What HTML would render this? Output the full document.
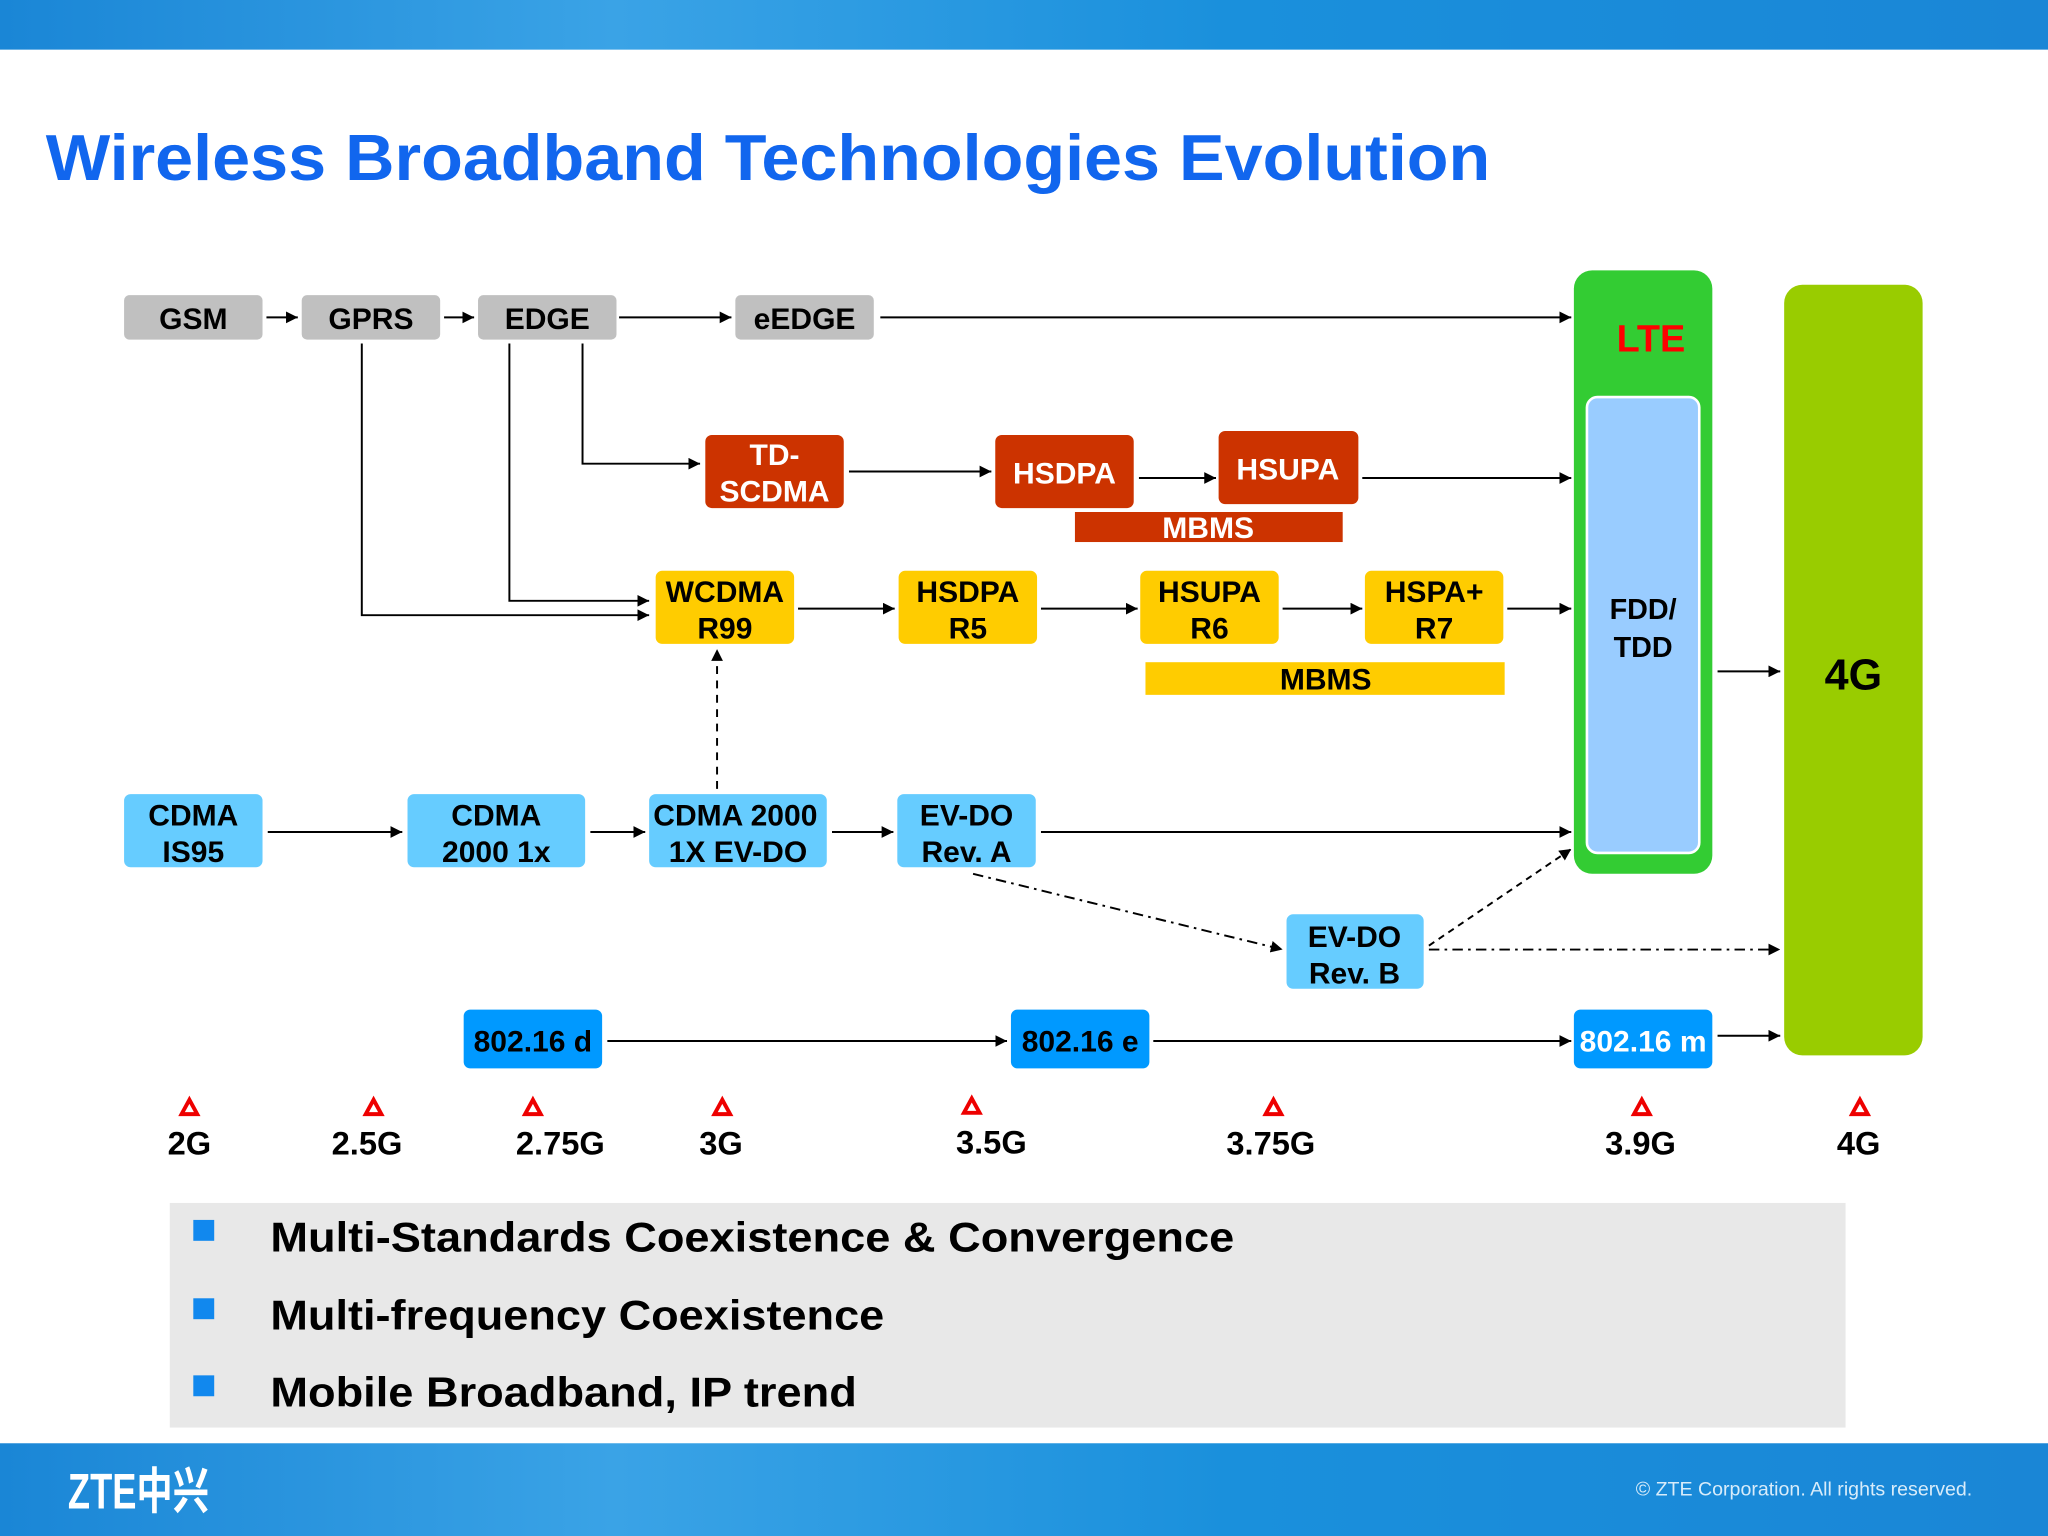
<!DOCTYPE html>
<html><head><meta charset="utf-8"><style>
html,body{margin:0;padding:0;background:#fff;}
svg{display:block;}
text{font-family:"Liberation Sans",Arial,sans-serif;font-weight:bold;}
</style></head><body>
<svg width="2048" height="1536" viewBox="0 0 1568 1176" xmlns="http://www.w3.org/2000/svg">
<defs>
<marker id="ar" viewBox="0 0 10 10" refX="10" refY="5" markerWidth="9" markerHeight="9" markerUnits="userSpaceOnUse" orient="auto"><path d="M0,0L10,5L0,10z" fill="#000"/></marker>
<linearGradient id="tb" x1="0" x2="1"><stop offset="0" stop-color="#1a86d6"/><stop offset="0.3" stop-color="#3aa3e6"/><stop offset="0.6" stop-color="#1a90dc"/><stop offset="1" stop-color="#1a86d6"/></linearGradient>
</defs>
<rect x="0" y="0" width="1568" height="38" fill="url(#tb)"/>
<text x="35" y="138" font-size="50" fill="#1166ee" textLength="1106" lengthAdjust="spacingAndGlyphs">Wireless Broadband Technologies Evolution</text>

<rect x="1205" y="207" width="106" height="462" rx="14" fill="#33cc33"/>
<text x="1264" y="269" font-size="29" fill="#ff0000" text-anchor="middle">LTE</text>
<rect x="1215" y="304" width="86" height="349" rx="8" fill="#99ccff" stroke="#fff" stroke-width="2"/>
<text x="1258" y="474" font-size="22" fill="#000" text-anchor="middle">FDD/<tspan x="1258" dy="29">TDD</tspan></text>
<rect x="1366" y="218" width="106" height="590" rx="14" fill="#99cc00"/>
<text x="1419" y="528" font-size="33" fill="#000" text-anchor="middle">4G</text>

<g stroke="#000" stroke-width="1.5" fill="none">
<line x1="204" y1="243" x2="228" y2="243" marker-end="url(#ar)"/>
<line x1="340" y1="243" x2="363" y2="243" marker-end="url(#ar)"/>
<line x1="474" y1="243" x2="560" y2="243" marker-end="url(#ar)"/>
<line x1="674" y1="243" x2="1203" y2="243" marker-end="url(#ar)"/>
<polyline points="446,263 446,355 536,355" marker-end="url(#ar)"/>
<polyline points="390,263 390,460 497,460" marker-end="url(#ar)"/>
<polyline points="277,263 277,471 497,471" marker-end="url(#ar)"/>
<line x1="650" y1="361" x2="759" y2="361" marker-end="url(#ar)"/>
<line x1="872" y1="366" x2="931" y2="366" marker-end="url(#ar)"/>
<line x1="1043" y1="366" x2="1203" y2="366" marker-end="url(#ar)"/>
<line x1="611" y1="466" x2="685" y2="466" marker-end="url(#ar)"/>
<line x1="797" y1="466" x2="871" y2="466" marker-end="url(#ar)"/>
<line x1="982" y1="466" x2="1043" y2="466" marker-end="url(#ar)"/>
<line x1="1154" y1="466" x2="1203" y2="466" marker-end="url(#ar)"/>
<line x1="1315" y1="514" x2="1363" y2="514" marker-end="url(#ar)"/>
<line x1="549" y1="604" x2="549" y2="497" stroke-dasharray="6,5" marker-end="url(#ar)"/>
<line x1="205" y1="637" x2="308" y2="637" marker-end="url(#ar)"/>
<line x1="452" y1="637" x2="494" y2="637" marker-end="url(#ar)"/>
<line x1="637" y1="637" x2="684" y2="637" marker-end="url(#ar)"/>
<line x1="797" y1="637" x2="1203" y2="637" marker-end="url(#ar)"/>
<line x1="745" y1="669" x2="982" y2="727" stroke-dasharray="8,4,2,4" marker-end="url(#ar)"/>
<line x1="1094" y1="727" x2="1363" y2="727" stroke-dasharray="8,4,2,4" marker-end="url(#ar)"/>
<line x1="1094" y1="724" x2="1203" y2="650" stroke-dasharray="5,4" marker-end="url(#ar)"/>
<line x1="465" y1="797" x2="771" y2="797" marker-end="url(#ar)"/>
<line x1="883" y1="797" x2="1203" y2="797" marker-end="url(#ar)"/>
<line x1="1315" y1="793" x2="1363" y2="793" marker-end="url(#ar)"/>
</g>

<g font-size="23" text-anchor="middle" fill="#000">
<rect x="95" y="226" width="106" height="34" rx="4" fill="#c0c0c0"/><text x="148" y="252">GSM</text>
<rect x="231" y="226" width="106" height="34" rx="4" fill="#c0c0c0"/><text x="284" y="252">GPRS</text>
<rect x="366" y="226" width="106" height="34" rx="4" fill="#c0c0c0"/><text x="419" y="252">EDGE</text>
<rect x="563" y="226" width="106" height="34" rx="4" fill="#c0c0c0"/><text x="616" y="252">eEDGE</text>
</g>
<g font-size="23" text-anchor="middle" fill="#fff">
<rect x="540" y="333" width="106" height="56" rx="5" fill="#cc3300"/><text x="593" y="356">TD-<tspan x="593" dy="28">SCDMA</tspan></text>
<rect x="762" y="333" width="106" height="56" rx="5" fill="#cc3300"/><text x="815" y="370">HSDPA</text>
<rect x="933" y="330" width="107" height="56" rx="5" fill="#cc3300"/><text x="986" y="367">HSUPA</text>
<rect x="823" y="392" width="205" height="23" fill="#cc3300"/><text x="925" y="412">MBMS</text>
</g>
<g font-size="23" text-anchor="middle" fill="#000">
<rect x="502" y="437" width="106" height="56" rx="5" fill="#ffcc00"/><text x="555" y="461">WCDMA<tspan x="555" dy="28">R99</tspan></text>
<rect x="688" y="437" width="106" height="56" rx="5" fill="#ffcc00"/><text x="741" y="461">HSDPA<tspan x="741" dy="28">R5</tspan></text>
<rect x="873" y="437" width="106" height="56" rx="5" fill="#ffcc00"/><text x="926" y="461">HSUPA<tspan x="926" dy="28">R6</tspan></text>
<rect x="1045" y="437" width="106" height="56" rx="5" fill="#ffcc00"/><text x="1098" y="461">HSPA+<tspan x="1098" dy="28">R7</tspan></text>
<rect x="877" y="507" width="275" height="25" fill="#ffcc00"/><text x="1015" y="528">MBMS</text>
</g>
<g font-size="23" text-anchor="middle" fill="#000">
<rect x="95" y="608" width="106" height="56" rx="5" fill="#66ccff"/><text x="148" y="632">CDMA<tspan x="148" dy="28">IS95</tspan></text>
<rect x="312" y="608" width="136" height="56" rx="5" fill="#66ccff"/><text x="380" y="632">CDMA<tspan x="380" dy="28">2000 1x</tspan></text>
<rect x="497" y="608" width="136" height="56" rx="5" fill="#66ccff"/><text x="563" y="632">CDMA 2000<tspan x="565" dy="28">1X EV-DO</tspan></text>
<rect x="687" y="608" width="106" height="56" rx="5" fill="#66ccff"/><text x="740" y="632">EV-DO<tspan x="740" dy="28">Rev. A</tspan></text>
<rect x="985" y="700" width="105" height="57" rx="5" fill="#66ccff"/><text x="1037" y="725">EV-DO<tspan x="1037" dy="28">Rev. B</tspan></text>
</g>
<g font-size="23" text-anchor="middle" fill="#000">
<rect x="355" y="773" width="106" height="45" rx="5" fill="#0099ff"/><text x="408" y="805">802.16 d</text>
<rect x="774" y="773" width="106" height="45" rx="5" fill="#0099ff"/><text x="827" y="805">802.16 e</text>
<rect x="1205" y="773" width="106" height="45" rx="5" fill="#0099ff"/><text x="1258" y="805" fill="#fff">802.16 m</text>
</g>

<g font-size="25" text-anchor="middle" fill="#000">
<g fill="#fff" stroke="#e00" stroke-width="3">
<path d="M145,842 L139,853 L151,853Z"/><path d="M286,842 L280,853 L292,853Z"/><path d="M408,842 L402,853 L414,853Z"/><path d="M553,842 L547,853 L559,853Z"/><path d="M744,841 L738,852 L750,852Z"/><path d="M975,842 L969,853 L981,853Z"/><path d="M1257,842 L1251,853 L1263,853Z"/><path d="M1424,842 L1418,853 L1430,853Z"/>
</g>
<text x="145" y="884">2G</text><text x="281" y="884">2.5G</text><text x="429" y="884">2.75G</text><text x="552" y="884">3G</text><text x="759" y="883">3.5G</text><text x="973" y="884">3.75G</text><text x="1256" y="884">3.9G</text><text x="1423" y="884">4G</text>
</g>

<rect x="130" y="921" width="1283" height="172" fill="#e8e8e8"/>
<g font-size="32" fill="#000">
<rect x="148" y="934" width="16" height="16" fill="#1188ee"/><text x="207" y="958" textLength="738" lengthAdjust="spacingAndGlyphs">Multi-Standards Coexistence &amp; Convergence</text>
<rect x="148" y="994" width="16" height="16" fill="#1188ee"/><text x="207" y="1018" textLength="470" lengthAdjust="spacingAndGlyphs">Multi-frequency Coexistence</text>
<rect x="148" y="1053" width="16" height="16" fill="#1188ee"/><text x="207" y="1077" textLength="449" lengthAdjust="spacingAndGlyphs">Mobile Broadband, IP trend</text>
</g>

<rect x="0" y="1105" width="1568" height="71" fill="url(#tb)"/>
<text x="52" y="1155" font-size="38" fill="#fff" textLength="108" lengthAdjust="spacingAndGlyphs" style="font-family:'Liberation Sans','Noto Sans CJK SC',sans-serif">ZTE中兴</text>
<text x="1510" y="1145" font-size="15" fill="#d8ecfa" text-anchor="end" style="font-weight:normal">© ZTE Corporation. All rights reserved.</text>
</svg>
</body></html>
